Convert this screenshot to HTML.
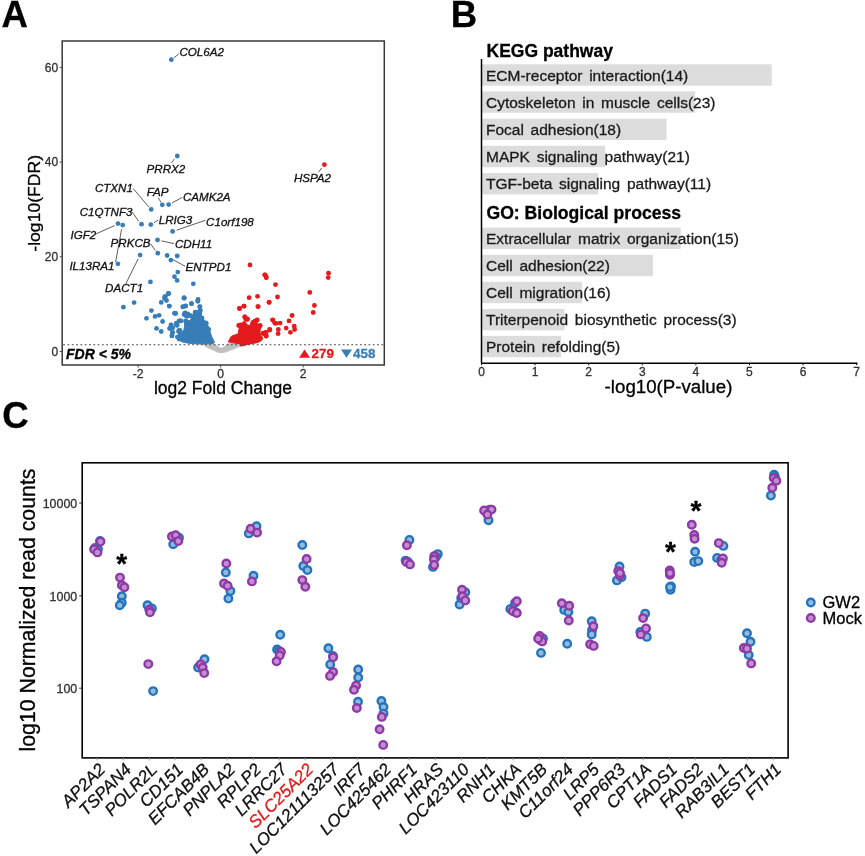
<!DOCTYPE html>
<html><head><meta charset="utf-8"><style>
html,body{margin:0;padding:0;background:#fff;width:865px;height:856px;overflow:hidden}
svg{display:block;will-change:transform}
text{font-family:"Liberation Sans", sans-serif}
</style></head><body>
<svg width="865" height="856" viewBox="0 0 865 856">
<rect width="865" height="856" fill="#fff"/>
<text stroke="#000" stroke-width="0.3" x="1.6" y="26.9" font-size="36.6" font-weight="bold">A</text>
<text stroke="#000" stroke-width="0.3" x="450.8" y="26.9" font-size="36.6" font-weight="bold">B</text>
<text stroke="#000" stroke-width="0.3" x="2.2" y="428" font-size="36.6" font-weight="bold">C</text>
<rect x="62.2" y="41" width="322.1" height="324" fill="none" stroke="#383838" stroke-width="1.5"/>
<line x1="59.7" x2="62.2" y1="351.5" y2="351.5" stroke="#4a4a4a" stroke-width="1"/>
<text stroke="#333" stroke-width="0.3" x="58.2" y="355.8" font-size="12" text-anchor="end" fill="#333">0</text>
<line x1="59.7" x2="62.2" y1="256.8" y2="256.8" stroke="#4a4a4a" stroke-width="1"/>
<text stroke="#333" stroke-width="0.3" x="58.2" y="261.1" font-size="12" text-anchor="end" fill="#333">20</text>
<line x1="59.7" x2="62.2" y1="162.1" y2="162.1" stroke="#4a4a4a" stroke-width="1"/>
<text stroke="#333" stroke-width="0.3" x="58.2" y="166.4" font-size="12" text-anchor="end" fill="#333">40</text>
<line x1="59.7" x2="62.2" y1="67.39999999999998" y2="67.39999999999998" stroke="#4a4a4a" stroke-width="1"/>
<text stroke="#333" stroke-width="0.3" x="58.2" y="71.69999999999997" font-size="12" text-anchor="end" fill="#333">60</text>
<line x1="138.2" x2="138.2" y1="365" y2="367.5" stroke="#4a4a4a" stroke-width="1"/>
<text stroke="#333" stroke-width="0.3" x="138.2" y="377.6" font-size="12.2" text-anchor="middle" fill="#333">-2</text>
<line x1="220.7" x2="220.7" y1="365" y2="367.5" stroke="#4a4a4a" stroke-width="1"/>
<text stroke="#333" stroke-width="0.3" x="220.7" y="377.6" font-size="12.2" text-anchor="middle" fill="#333">0</text>
<line x1="303.2" x2="303.2" y1="365" y2="367.5" stroke="#4a4a4a" stroke-width="1"/>
<text stroke="#333" stroke-width="0.3" x="303.2" y="377.6" font-size="12.2" text-anchor="middle" fill="#333">2</text>
<text stroke="#000" stroke-width="0.3" x="223" y="394.3" font-size="17.5" text-anchor="middle">log2 Fold Change</text>
<text stroke="#000" stroke-width="0.3" transform="translate(40.0,203.3) rotate(-90) scale(1,0.9)" font-size="17.6" text-anchor="middle">-log10(FDR)</text>
<path d="M201.4,342.8 L201.4,344.2 C204,345.5 207.3,347.8 207.3,347.8 C210,349.3 212,350.2 214.3,351 C217,352.3 219.3,353.3 221.2,353.3 C223.5,353.3 226,352.3 228.8,351.3 C231.5,350.3 233.5,349.4 235.8,348.5 L240.2,346.4 L240.2,342.8 L227.8,343.3 C226.5,344.6 225.5,345.5 224.7,346.1 C223.5,347.1 222.3,347.8 221.2,347.8 C220,347.8 218.8,346.9 217.7,346.1 C216,345 214.5,344.1 212.9,343.3 Z" fill="#C0C0C0"/>
<polygon points="177.8,339.1 178.5,330.7 182.0,332.1 184.1,329.3 184.8,323.7 188.3,322.3 191.8,318.0 193.9,313.1 196.8,311.0 200.3,307.5 201.7,312.4 201.0,318.0 203.1,318.8 207.3,323.7 209.4,329.3 211.5,336.3 214.5,342.4 213.5,343.4 210.0,343.6 200.0,344.0 189.0,343.3 182.0,341.9" fill="#377EB8" stroke="#377EB8" stroke-width="1" stroke-linejoin="round"/>
<polygon points="228.2,341.8 231.4,336.2 238.2,333.7 239.5,326.2 242.6,323.7 250.1,325.6 251.3,321.8 255.7,320.6 258.2,325.0 261.3,326.2 259.5,331.2 260.7,335.0 262.0,340.0 258.2,342.4 251.3,343.7 240.7,346.2 240.1,343.7 234.5,343.1" fill="#E41A1C" stroke="#E41A1C" stroke-width="1" stroke-linejoin="round"/>
<circle cx="171.3" cy="59.7" r="2.4" fill="#377EB8"/>
<circle cx="177.3" cy="156" r="2.4" fill="#377EB8"/>
<circle cx="151.2" cy="209.4" r="2.4" fill="#377EB8"/>
<circle cx="162.3" cy="204.8" r="2.4" fill="#377EB8"/>
<circle cx="168.7" cy="204.6" r="2.4" fill="#377EB8"/>
<circle cx="141.5" cy="224.2" r="2.4" fill="#377EB8"/>
<circle cx="150.8" cy="224.6" r="2.4" fill="#377EB8"/>
<circle cx="118" cy="223.6" r="2.4" fill="#377EB8"/>
<circle cx="122.7" cy="225.1" r="2.4" fill="#377EB8"/>
<circle cx="117.9" cy="263.8" r="2.4" fill="#377EB8"/>
<circle cx="172.6" cy="231.4" r="2.4" fill="#377EB8"/>
<circle cx="157.5" cy="239.9" r="2.4" fill="#377EB8"/>
<circle cx="157.8" cy="253.2" r="2.4" fill="#377EB8"/>
<circle cx="167.1" cy="255.5" r="2.4" fill="#377EB8"/>
<circle cx="177.2" cy="256" r="2.4" fill="#377EB8"/>
<circle cx="170.8" cy="260.1" r="2.4" fill="#377EB8"/>
<circle cx="140.1" cy="255.1" r="2.4" fill="#377EB8"/>
<circle cx="177.8" cy="272.1" r="2.4" fill="#377EB8"/>
<circle cx="174.5" cy="276.7" r="2.4" fill="#377EB8"/>
<circle cx="177.1" cy="280.4" r="2.4" fill="#377EB8"/>
<circle cx="193.3" cy="283.8" r="2.4" fill="#377EB8"/>
<circle cx="150.4" cy="281.9" r="2.4" fill="#377EB8"/>
<circle cx="168.4" cy="293.6" r="2.4" fill="#377EB8"/>
<circle cx="164.7" cy="296.7" r="2.4" fill="#377EB8"/>
<circle cx="184.1" cy="297.6" r="2.4" fill="#377EB8"/>
<circle cx="198" cy="299.5" r="2.4" fill="#377EB8"/>
<circle cx="134.1" cy="302.6" r="2.4" fill="#377EB8"/>
<circle cx="123.4" cy="307.2" r="2.4" fill="#377EB8"/>
<circle cx="168.2" cy="293.8" r="2.4" fill="#377EB8"/>
<circle cx="165.4" cy="296.8" r="2.4" fill="#377EB8"/>
<circle cx="164.5" cy="298.6" r="2.4" fill="#377EB8"/>
<circle cx="166.5" cy="300.5" r="2.4" fill="#377EB8"/>
<circle cx="161.2" cy="302.4" r="2.4" fill="#377EB8"/>
<circle cx="169.2" cy="306.1" r="2.4" fill="#377EB8"/>
<circle cx="151.4" cy="310.6" r="2.4" fill="#377EB8"/>
<circle cx="159.1" cy="315.3" r="2.4" fill="#377EB8"/>
<circle cx="155.1" cy="316.4" r="2.4" fill="#377EB8"/>
<circle cx="146.5" cy="318.3" r="2.4" fill="#377EB8"/>
<circle cx="174.6" cy="313.4" r="2.4" fill="#377EB8"/>
<circle cx="162.6" cy="321.5" r="2.4" fill="#377EB8"/>
<circle cx="171" cy="324.8" r="2.4" fill="#377EB8"/>
<circle cx="169.6" cy="328.6" r="2.4" fill="#377EB8"/>
<circle cx="156.5" cy="328.4" r="2.4" fill="#377EB8"/>
<circle cx="161.2" cy="331.5" r="2.4" fill="#377EB8"/>
<circle cx="172.4" cy="332.3" r="2.4" fill="#377EB8"/>
<circle cx="172" cy="335.6" r="2.4" fill="#377EB8"/>
<circle cx="177.1" cy="325.3" r="2.4" fill="#377EB8"/>
<circle cx="179" cy="321" r="2.4" fill="#377EB8"/>
<circle cx="178.5" cy="331.4" r="2.4" fill="#377EB8"/>
<circle cx="179" cy="338.8" r="2.4" fill="#377EB8"/>
<circle cx="184.1" cy="298.2" r="2.4" fill="#377EB8"/>
<circle cx="197.9" cy="301" r="2.4" fill="#377EB8"/>
<circle cx="191.4" cy="303.6" r="2.4" fill="#377EB8"/>
<circle cx="183.4" cy="306.6" r="2.4" fill="#377EB8"/>
<circle cx="185.7" cy="305.9" r="2.4" fill="#377EB8"/>
<circle cx="199.8" cy="306.6" r="2.4" fill="#377EB8"/>
<circle cx="200.2" cy="310.8" r="2.4" fill="#377EB8"/>
<circle cx="195.1" cy="312.7" r="2.4" fill="#377EB8"/>
<circle cx="185.1" cy="313.1" r="2.4" fill="#377EB8"/>
<circle cx="175.7" cy="313.4" r="2.4" fill="#377EB8"/>
<circle cx="186.2" cy="315.9" r="2.4" fill="#377EB8"/>
<circle cx="190.4" cy="315.9" r="2.4" fill="#377EB8"/>
<circle cx="201.6" cy="318.3" r="2.4" fill="#377EB8"/>
<circle cx="180.6" cy="320.9" r="2.4" fill="#377EB8"/>
<circle cx="187.1" cy="322" r="2.4" fill="#377EB8"/>
<circle cx="205.8" cy="323" r="2.4" fill="#377EB8"/>
<circle cx="176.9" cy="324.8" r="2.4" fill="#377EB8"/>
<circle cx="168.7" cy="293.5" r="2.4" fill="#377EB8"/>
<circle cx="184.1" cy="298.1" r="2.4" fill="#377EB8"/>
<circle cx="197.8" cy="301.2" r="2.4" fill="#377EB8"/>
<circle cx="191.5" cy="303.7" r="2.4" fill="#377EB8"/>
<circle cx="182.7" cy="306.8" r="2.4" fill="#377EB8"/>
<circle cx="185.5" cy="306.1" r="2.4" fill="#377EB8"/>
<circle cx="169.4" cy="306.1" r="2.4" fill="#377EB8"/>
<circle cx="174.7" cy="313.1" r="2.4" fill="#377EB8"/>
<circle cx="199.9" cy="306.8" r="2.4" fill="#377EB8"/>
<circle cx="200.3" cy="310.3" r="2.4" fill="#377EB8"/>
<circle cx="195.3" cy="312.1" r="2.4" fill="#377EB8"/>
<circle cx="185.2" cy="312.8" r="2.4" fill="#377EB8"/>
<circle cx="184.1" cy="314.5" r="2.4" fill="#377EB8"/>
<circle cx="187.3" cy="316.3" r="2.4" fill="#377EB8"/>
<circle cx="190.4" cy="315.6" r="2.4" fill="#377EB8"/>
<circle cx="180.6" cy="320.9" r="2.4" fill="#377EB8"/>
<circle cx="176.8" cy="325.1" r="2.4" fill="#377EB8"/>
<circle cx="171.2" cy="325.1" r="2.4" fill="#377EB8"/>
<circle cx="170.1" cy="327.9" r="2.4" fill="#377EB8"/>
<circle cx="172.6" cy="332.4" r="2.4" fill="#377EB8"/>
<circle cx="171.9" cy="335.9" r="2.4" fill="#377EB8"/>
<circle cx="179.2" cy="339.1" r="2.4" fill="#377EB8"/>
<circle cx="178.9" cy="330.7" r="2.4" fill="#377EB8"/>
<circle cx="202" cy="318" r="2.4" fill="#377EB8"/>
<circle cx="206.2" cy="323.3" r="2.4" fill="#377EB8"/>
<circle cx="208.7" cy="329.3" r="2.4" fill="#377EB8"/>
<circle cx="186.2" cy="322.6" r="2.4" fill="#377EB8"/>
<circle cx="176.3" cy="323.2" r="2.4" fill="#377EB8"/>
<circle cx="179.7" cy="330.2" r="2.4" fill="#377EB8"/>
<circle cx="172.8" cy="327.8" r="2.4" fill="#377EB8"/>
<circle cx="185.5" cy="320.9" r="2.4" fill="#377EB8"/>
<circle cx="177.4" cy="337.1" r="2.4" fill="#377EB8"/>
<circle cx="187.8" cy="314" r="2.4" fill="#377EB8"/>
<circle cx="192.4" cy="316.3" r="2.4" fill="#377EB8"/>
<circle cx="324.4" cy="164.7" r="2.4" fill="#E41A1C"/>
<circle cx="250" cy="265" r="2.4" fill="#E41A1C"/>
<circle cx="264.7" cy="274.8" r="2.4" fill="#E41A1C"/>
<circle cx="266.1" cy="276.7" r="2.4" fill="#E41A1C"/>
<circle cx="275.5" cy="284.6" r="2.4" fill="#E41A1C"/>
<circle cx="249.1" cy="297.7" r="2.4" fill="#E41A1C"/>
<circle cx="257.5" cy="296.3" r="2.4" fill="#E41A1C"/>
<circle cx="277.5" cy="297" r="2.4" fill="#E41A1C"/>
<circle cx="269.1" cy="302.4" r="2.4" fill="#E41A1C"/>
<circle cx="244.2" cy="306.1" r="2.4" fill="#E41A1C"/>
<circle cx="239.5" cy="308.5" r="2.4" fill="#E41A1C"/>
<circle cx="258.2" cy="306.6" r="2.4" fill="#E41A1C"/>
<circle cx="244.8" cy="316.9" r="2.4" fill="#E41A1C"/>
<circle cx="247.4" cy="319" r="2.4" fill="#E41A1C"/>
<circle cx="292.1" cy="315.5" r="2.4" fill="#E41A1C"/>
<circle cx="289" cy="320.9" r="2.4" fill="#E41A1C"/>
<circle cx="272.9" cy="320.1" r="2.4" fill="#E41A1C"/>
<circle cx="275.9" cy="323.4" r="2.4" fill="#E41A1C"/>
<circle cx="280.1" cy="323.1" r="2.4" fill="#E41A1C"/>
<circle cx="257.2" cy="320.1" r="2.4" fill="#E41A1C"/>
<circle cx="253" cy="322.5" r="2.4" fill="#E41A1C"/>
<circle cx="260" cy="325.7" r="2.4" fill="#E41A1C"/>
<circle cx="294.2" cy="326.2" r="2.4" fill="#E41A1C"/>
<circle cx="294.6" cy="329.5" r="2.4" fill="#E41A1C"/>
<circle cx="286.2" cy="328.1" r="2.4" fill="#E41A1C"/>
<circle cx="278.3" cy="329.5" r="2.4" fill="#E41A1C"/>
<circle cx="278.1" cy="333.7" r="2.4" fill="#E41A1C"/>
<circle cx="269.7" cy="329.5" r="2.4" fill="#E41A1C"/>
<circle cx="266.1" cy="332.3" r="2.4" fill="#E41A1C"/>
<circle cx="263.3" cy="333.7" r="2.4" fill="#E41A1C"/>
<circle cx="266.1" cy="336" r="2.4" fill="#E41A1C"/>
<circle cx="290.4" cy="332.3" r="2.4" fill="#E41A1C"/>
<circle cx="244.2" cy="323.9" r="2.4" fill="#E41A1C"/>
<circle cx="328.5" cy="273.2" r="2.4" fill="#E41A1C"/>
<circle cx="328.2" cy="277.6" r="2.4" fill="#E41A1C"/>
<circle cx="309.8" cy="292.4" r="2.4" fill="#E41A1C"/>
<circle cx="314.4" cy="305.5" r="2.4" fill="#E41A1C"/>
<circle cx="313.2" cy="312.5" r="2.4" fill="#E41A1C"/>
<circle cx="265" cy="275" r="2.4" fill="#E41A1C"/>
<circle cx="266.3" cy="277.8" r="2.4" fill="#E41A1C"/>
<circle cx="239.5" cy="308.4" r="2.4" fill="#E41A1C"/>
<circle cx="243.8" cy="306.2" r="2.4" fill="#E41A1C"/>
<circle cx="257.9" cy="306.6" r="2.4" fill="#E41A1C"/>
<circle cx="269.1" cy="302.2" r="2.4" fill="#E41A1C"/>
<circle cx="244.8" cy="316.9" r="2.4" fill="#E41A1C"/>
<circle cx="247.3" cy="319.4" r="2.4" fill="#E41A1C"/>
<circle cx="257" cy="320" r="2.4" fill="#E41A1C"/>
<circle cx="272.6" cy="320" r="2.4" fill="#E41A1C"/>
<circle cx="274.7" cy="323.1" r="2.4" fill="#E41A1C"/>
<circle cx="269.8" cy="330" r="2.4" fill="#E41A1C"/>
<circle cx="265.7" cy="332.5" r="2.4" fill="#E41A1C"/>
<circle cx="263.2" cy="333.1" r="2.4" fill="#E41A1C"/>
<circle cx="266.3" cy="335.9" r="2.4" fill="#E41A1C"/>
<circle cx="260.1" cy="325.6" r="2.4" fill="#E41A1C"/>
<circle cx="244.2" cy="323.7" r="2.4" fill="#E41A1C"/>
<circle cx="240.4" cy="325" r="2.4" fill="#E41A1C"/>
<circle cx="238.7" cy="325.5" r="2.4" fill="#E41A1C"/>
<circle cx="245.6" cy="319" r="2.4" fill="#E41A1C"/>
<circle cx="254.9" cy="321.2" r="2.4" fill="#E41A1C"/>
<circle cx="258.3" cy="331.3" r="2.4" fill="#E41A1C"/>
<circle cx="250.2" cy="337.1" r="2.4" fill="#E41A1C"/>
<circle cx="260.6" cy="338.2" r="2.4" fill="#E41A1C"/>
<circle cx="241" cy="332.5" r="2.4" fill="#E41A1C"/>
<line x1="63.2" x2="383.3" y1="344.7" y2="344.7" stroke="#444" stroke-width="1.1" stroke-dasharray="1.8 2.5"/>
<line x1="174.1" y1="57.8" x2="178.8" y2="53.7" stroke="#333" stroke-width="0.8"/>
<line x1="174.5" y1="158.8" x2="171.3" y2="162.9" stroke="#333" stroke-width="0.8"/>
<line x1="321.6" y1="168" x2="318.6" y2="172.2" stroke="#333" stroke-width="0.8"/>
<line x1="148.9" y1="207" x2="133.2" y2="188.5" stroke="#333" stroke-width="0.8"/>
<line x1="161" y1="202.4" x2="158.2" y2="197.7" stroke="#333" stroke-width="0.8"/>
<line x1="172.1" y1="202.9" x2="182.2" y2="197.4" stroke="#333" stroke-width="0.8"/>
<line x1="138.8" y1="221.4" x2="132.3" y2="212.2" stroke="#333" stroke-width="0.8"/>
<line x1="153.9" y1="222.7" x2="158.2" y2="220" stroke="#333" stroke-width="0.8"/>
<line x1="114.7" y1="225.5" x2="96.2" y2="233.8" stroke="#333" stroke-width="0.8"/>
<line x1="121.6" y1="229.2" x2="115.6" y2="262" stroke="#333" stroke-width="0.8"/>
<line x1="176.7" y1="230.1" x2="205.4" y2="220.3" stroke="#333" stroke-width="0.8"/>
<line x1="161.5" y1="240.8" x2="173.9" y2="243.6" stroke="#333" stroke-width="0.8"/>
<line x1="150.4" y1="243.6" x2="155.4" y2="250.5" stroke="#333" stroke-width="0.8"/>
<line x1="173" y1="259.7" x2="185" y2="266.2" stroke="#333" stroke-width="0.8"/>
<line x1="138.2" y1="258.8" x2="125.8" y2="283.8" stroke="#333" stroke-width="0.8"/>
<text stroke="#111" stroke-width="0.3" x="179.4" y="56.4" font-size="11.6" font-style="italic" fill="#111">COL6A2</text>
<text stroke="#111" stroke-width="0.3" x="146.6" y="172.8" font-size="11.6" font-style="italic" fill="#111">PRRX2</text>
<text stroke="#111" stroke-width="0.3" x="293.90000000000003" y="182" font-size="11.6" font-style="italic" fill="#111">HSPA2</text>
<text stroke="#111" stroke-width="0.3" x="94.89999999999999" y="192.2" font-size="11.6" font-style="italic" fill="#111">CTXN1</text>
<text stroke="#111" stroke-width="0.3" x="146.7" y="196.3" font-size="11.6" font-style="italic" fill="#111">FAP</text>
<text stroke="#111" stroke-width="0.3" x="182.9" y="201" font-size="11.6" font-style="italic" fill="#111">CAMK2A</text>
<text stroke="#111" stroke-width="0.3" x="79.69999999999999" y="215.9" font-size="11.6" font-style="italic" fill="#111">C1QTNF3</text>
<text stroke="#111" stroke-width="0.3" x="158.7" y="223.6" font-size="11.6" font-style="italic" fill="#111">LRIG3</text>
<text stroke="#111" stroke-width="0.3" x="206.1" y="225.7" font-size="11.6" font-style="italic" fill="#111">C1orf198</text>
<text stroke="#111" stroke-width="0.3" x="70.5" y="238.8" font-size="11.6" font-style="italic" fill="#111">IGF2</text>
<text stroke="#111" stroke-width="0.3" x="175.0" y="248" font-size="11.6" font-style="italic" fill="#111">CDH11</text>
<text stroke="#111" stroke-width="0.3" x="110.6" y="246.8" font-size="11.6" font-style="italic" fill="#111">PRKCB</text>
<text stroke="#111" stroke-width="0.3" x="69.39999999999999" y="269.9" font-size="11.6" font-style="italic" fill="#111">IL13RA1</text>
<text stroke="#111" stroke-width="0.3" x="185.6" y="271" font-size="11.6" font-style="italic" fill="#111">ENTPD1</text>
<text stroke="#111" stroke-width="0.3" x="105.1" y="292.1" font-size="11.6" font-style="italic" fill="#111">DACT1</text>
<text stroke="#000" stroke-width="0.3" x="66" y="358.8" font-size="14" font-weight="bold" font-style="italic">FDR &lt; 5%</text>
<polygon points="299,357.7 310,357.7 304.5,349.5" fill="#E41A1C"/>
<text stroke="#E41A1C" stroke-width="0.3" x="311.5" y="357.7" font-size="13.4" font-weight="bold" fill="#E41A1C">279</text>
<polygon points="341,349.5 352,349.5 346.5,357.7" fill="#377EB8"/>
<text stroke="#377EB8" stroke-width="0.3" x="353" y="357.7" font-size="13.4" font-weight="bold" fill="#377EB8">458</text>
<rect x="481.5" y="64.3" width="290.20000000000005" height="21.4" fill="#DCDCDC"/>
<rect x="481.5" y="91.39999999999999" width="213.60000000000002" height="21.4" fill="#DCDCDC"/>
<rect x="481.5" y="118.60000000000001" width="185.0" height="21.4" fill="#DCDCDC"/>
<rect x="481.5" y="145.8" width="123.60000000000002" height="21.4" fill="#DCDCDC"/>
<rect x="481.5" y="173.0" width="116.70000000000005" height="21.4" fill="#DCDCDC"/>
<rect x="481.5" y="227.60000000000002" width="199.20000000000005" height="21.4" fill="#DCDCDC"/>
<rect x="481.5" y="254.8" width="171.5" height="21.4" fill="#DCDCDC"/>
<rect x="481.5" y="281.8" width="100.5" height="21.4" fill="#DCDCDC"/>
<rect x="481.5" y="308.90000000000003" width="83.0" height="21.4" fill="#DCDCDC"/>
<rect x="481.5" y="335.8" width="79.5" height="21.4" fill="#DCDCDC"/>
<text stroke="#1a1a1a" stroke-width="0.3" x="486" y="80.6" font-size="15.5" fill="#1a1a1a" word-spacing="2.4">ECM-receptor interaction(14)</text>
<text stroke="#1a1a1a" stroke-width="0.3" x="486" y="107.69999999999999" font-size="15.5" fill="#1a1a1a" word-spacing="2.4">Cytoskeleton in muscle cells(23)</text>
<text stroke="#1a1a1a" stroke-width="0.3" x="486" y="134.9" font-size="15.5" fill="#1a1a1a" word-spacing="2.4">Focal adhesion(18)</text>
<text stroke="#1a1a1a" stroke-width="0.3" x="486" y="162.1" font-size="15.5" fill="#1a1a1a" word-spacing="2.4">MAPK signaling pathway(21)</text>
<text stroke="#1a1a1a" stroke-width="0.3" x="486" y="189.29999999999998" font-size="15.5" fill="#1a1a1a" word-spacing="2.4">TGF-beta signaling pathway(11)</text>
<text stroke="#1a1a1a" stroke-width="0.3" x="486" y="243.9" font-size="15.5" fill="#1a1a1a" word-spacing="2.4">Extracellular matrix organization(15)</text>
<text stroke="#1a1a1a" stroke-width="0.3" x="486" y="271.1" font-size="15.5" fill="#1a1a1a" word-spacing="2.4">Cell adhesion(22)</text>
<text stroke="#1a1a1a" stroke-width="0.3" x="486" y="298.1" font-size="15.5" fill="#1a1a1a" word-spacing="2.4">Cell migration(16)</text>
<text stroke="#1a1a1a" stroke-width="0.3" x="486" y="325.20000000000005" font-size="15.5" fill="#1a1a1a" word-spacing="2.4">Triterpenoid biosynthetic process(3)</text>
<text stroke="#1a1a1a" stroke-width="0.3" x="486" y="352.1" font-size="15.5" fill="#1a1a1a" word-spacing="2.4">Protein refolding(5)</text>
<text stroke="#000" stroke-width="0.3" x="486.5" y="56.6" font-size="17.5" font-weight="bold">KEGG pathway</text>
<text stroke="#000" stroke-width="0.3" x="486.5" y="218.6" font-size="17.6" font-weight="bold">GO: Biological process</text>
<line x1="481.5" y1="59" x2="481.5" y2="363.2" stroke="#000" stroke-width="1.5"/>
<line x1="481.5" y1="363.2" x2="857.5" y2="363.2" stroke="#000" stroke-width="1.5"/>
<line x1="481.5" y1="363.2" x2="481.5" y2="365.2" stroke="#000" stroke-width="1"/>
<text stroke="#333" stroke-width="0.3" x="481.5" y="375.8" font-size="12" text-anchor="middle" fill="#333">0</text>
<line x1="535.09" y1="363.2" x2="535.09" y2="365.2" stroke="#000" stroke-width="1"/>
<text stroke="#333" stroke-width="0.3" x="535.09" y="375.8" font-size="12" text-anchor="middle" fill="#333">1</text>
<line x1="588.6800000000001" y1="363.2" x2="588.6800000000001" y2="365.2" stroke="#000" stroke-width="1"/>
<text stroke="#333" stroke-width="0.3" x="588.6800000000001" y="375.8" font-size="12" text-anchor="middle" fill="#333">2</text>
<line x1="642.27" y1="363.2" x2="642.27" y2="365.2" stroke="#000" stroke-width="1"/>
<text stroke="#333" stroke-width="0.3" x="642.27" y="375.8" font-size="12" text-anchor="middle" fill="#333">3</text>
<line x1="695.86" y1="363.2" x2="695.86" y2="365.2" stroke="#000" stroke-width="1"/>
<text stroke="#333" stroke-width="0.3" x="695.86" y="375.8" font-size="12" text-anchor="middle" fill="#333">4</text>
<line x1="749.45" y1="363.2" x2="749.45" y2="365.2" stroke="#000" stroke-width="1"/>
<text stroke="#333" stroke-width="0.3" x="749.45" y="375.8" font-size="12" text-anchor="middle" fill="#333">5</text>
<line x1="803.04" y1="363.2" x2="803.04" y2="365.2" stroke="#000" stroke-width="1"/>
<text stroke="#333" stroke-width="0.3" x="803.04" y="375.8" font-size="12" text-anchor="middle" fill="#333">6</text>
<line x1="856.63" y1="363.2" x2="856.63" y2="365.2" stroke="#000" stroke-width="1"/>
<text stroke="#333" stroke-width="0.3" x="856.63" y="375.8" font-size="12" text-anchor="middle" fill="#333">7</text>
<text stroke="#000" stroke-width="0.3" x="668.5" y="392.5" font-size="18.7" text-anchor="middle">-log10(P-value)</text>
<rect x="82.2" y="462.8" width="705.9" height="295.09999999999997" fill="none" stroke="#000" stroke-width="1.6"/>
<line x1="79.2" x2="82.2" y1="503" y2="503" stroke="#333" stroke-width="1"/>
<text stroke="#333" stroke-width="0.3" x="77.2" y="508.2" font-size="12.4" text-anchor="end" fill="#333">10000</text>
<line x1="79.2" x2="82.2" y1="595.8" y2="595.8" stroke="#333" stroke-width="1"/>
<text stroke="#333" stroke-width="0.3" x="77.2" y="601.0" font-size="12.4" text-anchor="end" fill="#333">1000</text>
<line x1="79.2" x2="82.2" y1="688.2" y2="688.2" stroke="#333" stroke-width="1"/>
<text stroke="#333" stroke-width="0.3" x="77.2" y="693.4000000000001" font-size="12.4" text-anchor="end" fill="#333">100</text>
<text stroke="#000" stroke-width="0.3" transform="translate(35.0,610.0) rotate(-90)" font-size="21.3" text-anchor="middle">log10 Normalized read counts</text>
<line x1="97.3" x2="97.3" y1="757.9" y2="760.4" stroke="#999" stroke-width="1"/>
<text stroke="#111" stroke-width="0.3" transform="translate(97.3,761.4) rotate(-45)" font-size="17.2" font-style="italic" text-anchor="end" dominant-baseline="hanging" fill="#111">AP2A2</text>
<line x1="123.3" x2="123.3" y1="757.9" y2="760.4" stroke="#999" stroke-width="1"/>
<text stroke="#111" stroke-width="0.3" transform="translate(123.3,761.4) rotate(-45)" font-size="17.2" font-style="italic" text-anchor="end" dominant-baseline="hanging" fill="#111">TSPAN4</text>
<line x1="149.3" x2="149.3" y1="757.9" y2="760.4" stroke="#999" stroke-width="1"/>
<text stroke="#111" stroke-width="0.3" transform="translate(149.3,761.4) rotate(-45)" font-size="17.2" font-style="italic" text-anchor="end" dominant-baseline="hanging" fill="#111">POLR2L</text>
<line x1="175.3" x2="175.3" y1="757.9" y2="760.4" stroke="#999" stroke-width="1"/>
<text stroke="#111" stroke-width="0.3" transform="translate(175.3,761.4) rotate(-45)" font-size="17.2" font-style="italic" text-anchor="end" dominant-baseline="hanging" fill="#111">CD151</text>
<line x1="201.3" x2="201.3" y1="757.9" y2="760.4" stroke="#999" stroke-width="1"/>
<text stroke="#111" stroke-width="0.3" transform="translate(201.3,761.4) rotate(-45)" font-size="17.2" font-style="italic" text-anchor="end" dominant-baseline="hanging" fill="#111">EFCAB4B</text>
<line x1="227.3" x2="227.3" y1="757.9" y2="760.4" stroke="#999" stroke-width="1"/>
<text stroke="#111" stroke-width="0.3" transform="translate(227.3,761.4) rotate(-45)" font-size="17.2" font-style="italic" text-anchor="end" dominant-baseline="hanging" fill="#111">PNPLA2</text>
<line x1="253.3" x2="253.3" y1="757.9" y2="760.4" stroke="#999" stroke-width="1"/>
<text stroke="#111" stroke-width="0.3" transform="translate(253.3,761.4) rotate(-45)" font-size="17.2" font-style="italic" text-anchor="end" dominant-baseline="hanging" fill="#111">RPLP2</text>
<line x1="279.3" x2="279.3" y1="757.9" y2="760.4" stroke="#999" stroke-width="1"/>
<text stroke="#111" stroke-width="0.3" transform="translate(279.3,761.4) rotate(-45)" font-size="17.2" font-style="italic" text-anchor="end" dominant-baseline="hanging" fill="#111">LRRC27</text>
<line x1="305.3" x2="305.3" y1="757.9" y2="760.4" stroke="#999" stroke-width="1"/>
<text stroke="#E41A1C" stroke-width="0.3" transform="translate(305.3,761.4) rotate(-45)" font-size="17.2" font-style="italic" text-anchor="end" dominant-baseline="hanging" fill="#E41A1C">SLC25A22</text>
<line x1="331.3" x2="331.3" y1="757.9" y2="760.4" stroke="#999" stroke-width="1"/>
<text stroke="#111" stroke-width="0.3" transform="translate(331.3,761.4) rotate(-45)" font-size="17.2" font-style="italic" text-anchor="end" dominant-baseline="hanging" fill="#111">LOC121113257</text>
<line x1="357.3" x2="357.3" y1="757.9" y2="760.4" stroke="#999" stroke-width="1"/>
<text stroke="#111" stroke-width="0.3" transform="translate(357.3,761.4) rotate(-45)" font-size="17.2" font-style="italic" text-anchor="end" dominant-baseline="hanging" fill="#111">IRF7</text>
<line x1="383.3" x2="383.3" y1="757.9" y2="760.4" stroke="#999" stroke-width="1"/>
<text stroke="#111" stroke-width="0.3" transform="translate(383.3,761.4) rotate(-45)" font-size="17.2" font-style="italic" text-anchor="end" dominant-baseline="hanging" fill="#111">LOC425462</text>
<line x1="409.3" x2="409.3" y1="757.9" y2="760.4" stroke="#999" stroke-width="1"/>
<text stroke="#111" stroke-width="0.3" transform="translate(409.3,761.4) rotate(-45)" font-size="17.2" font-style="italic" text-anchor="end" dominant-baseline="hanging" fill="#111">PHRF1</text>
<line x1="435.3" x2="435.3" y1="757.9" y2="760.4" stroke="#999" stroke-width="1"/>
<text stroke="#111" stroke-width="0.3" transform="translate(435.3,761.4) rotate(-45)" font-size="17.2" font-style="italic" text-anchor="end" dominant-baseline="hanging" fill="#111">HRAS</text>
<line x1="461.3" x2="461.3" y1="757.9" y2="760.4" stroke="#999" stroke-width="1"/>
<text stroke="#111" stroke-width="0.3" transform="translate(461.3,761.4) rotate(-45)" font-size="17.2" font-style="italic" text-anchor="end" dominant-baseline="hanging" fill="#111">LOC423110</text>
<line x1="487.3" x2="487.3" y1="757.9" y2="760.4" stroke="#999" stroke-width="1"/>
<text stroke="#111" stroke-width="0.3" transform="translate(487.3,761.4) rotate(-45)" font-size="17.2" font-style="italic" text-anchor="end" dominant-baseline="hanging" fill="#111">RNH1</text>
<line x1="513.3" x2="513.3" y1="757.9" y2="760.4" stroke="#999" stroke-width="1"/>
<text stroke="#111" stroke-width="0.3" transform="translate(513.3,761.4) rotate(-45)" font-size="17.2" font-style="italic" text-anchor="end" dominant-baseline="hanging" fill="#111">CHKA</text>
<line x1="539.3" x2="539.3" y1="757.9" y2="760.4" stroke="#999" stroke-width="1"/>
<text stroke="#111" stroke-width="0.3" transform="translate(539.3,761.4) rotate(-45)" font-size="17.2" font-style="italic" text-anchor="end" dominant-baseline="hanging" fill="#111">KMT5B</text>
<line x1="565.3" x2="565.3" y1="757.9" y2="760.4" stroke="#999" stroke-width="1"/>
<text stroke="#111" stroke-width="0.3" transform="translate(565.3,761.4) rotate(-45)" font-size="17.2" font-style="italic" text-anchor="end" dominant-baseline="hanging" fill="#111">C11orf24</text>
<line x1="591.3" x2="591.3" y1="757.9" y2="760.4" stroke="#999" stroke-width="1"/>
<text stroke="#111" stroke-width="0.3" transform="translate(591.3,761.4) rotate(-45)" font-size="17.2" font-style="italic" text-anchor="end" dominant-baseline="hanging" fill="#111">LRP5</text>
<line x1="617.3" x2="617.3" y1="757.9" y2="760.4" stroke="#999" stroke-width="1"/>
<text stroke="#111" stroke-width="0.3" transform="translate(617.3,761.4) rotate(-45)" font-size="17.2" font-style="italic" text-anchor="end" dominant-baseline="hanging" fill="#111">PPP6R3</text>
<line x1="643.3" x2="643.3" y1="757.9" y2="760.4" stroke="#999" stroke-width="1"/>
<text stroke="#111" stroke-width="0.3" transform="translate(643.3,761.4) rotate(-45)" font-size="17.2" font-style="italic" text-anchor="end" dominant-baseline="hanging" fill="#111">CPT1A</text>
<line x1="669.3" x2="669.3" y1="757.9" y2="760.4" stroke="#999" stroke-width="1"/>
<text stroke="#111" stroke-width="0.3" transform="translate(669.3,761.4) rotate(-45)" font-size="17.2" font-style="italic" text-anchor="end" dominant-baseline="hanging" fill="#111">FADS1</text>
<line x1="695.3" x2="695.3" y1="757.9" y2="760.4" stroke="#999" stroke-width="1"/>
<text stroke="#111" stroke-width="0.3" transform="translate(695.3,761.4) rotate(-45)" font-size="17.2" font-style="italic" text-anchor="end" dominant-baseline="hanging" fill="#111">FADS2</text>
<line x1="721.3" x2="721.3" y1="757.9" y2="760.4" stroke="#999" stroke-width="1"/>
<text stroke="#111" stroke-width="0.3" transform="translate(721.3,761.4) rotate(-45)" font-size="17.2" font-style="italic" text-anchor="end" dominant-baseline="hanging" fill="#111">RAB3IL1</text>
<line x1="747.3" x2="747.3" y1="757.9" y2="760.4" stroke="#999" stroke-width="1"/>
<text stroke="#111" stroke-width="0.3" transform="translate(747.3,761.4) rotate(-45)" font-size="17.2" font-style="italic" text-anchor="end" dominant-baseline="hanging" fill="#111">BEST1</text>
<line x1="773.3" x2="773.3" y1="757.9" y2="760.4" stroke="#999" stroke-width="1"/>
<text stroke="#111" stroke-width="0.3" transform="translate(773.3,761.4) rotate(-45)" font-size="17.2" font-style="italic" text-anchor="end" dominant-baseline="hanging" fill="#111">FTH1</text>
<circle cx="100" cy="541" r="3.75" fill="#93BADD" stroke="#2474BD" stroke-width="2.4"/>
<circle cx="98" cy="549" r="3.75" fill="#93BADD" stroke="#2474BD" stroke-width="2.4"/>
<circle cx="95" cy="548" r="3.75" fill="#93BADD" stroke="#2474BD" stroke-width="2.4"/>
<circle cx="121.8" cy="596.3" r="3.75" fill="#93BADD" stroke="#2474BD" stroke-width="2.4"/>
<circle cx="121.8" cy="602.8" r="3.75" fill="#93BADD" stroke="#2474BD" stroke-width="2.4"/>
<circle cx="119.8" cy="605.3" r="3.75" fill="#93BADD" stroke="#2474BD" stroke-width="2.4"/>
<circle cx="147.5" cy="605.3" r="3.75" fill="#93BADD" stroke="#2474BD" stroke-width="2.4"/>
<circle cx="151.9" cy="608.4" r="3.75" fill="#93BADD" stroke="#2474BD" stroke-width="2.4"/>
<circle cx="153.1" cy="691.1" r="3.75" fill="#93BADD" stroke="#2474BD" stroke-width="2.4"/>
<circle cx="179" cy="537.8" r="3.75" fill="#93BADD" stroke="#2474BD" stroke-width="2.4"/>
<circle cx="173.2" cy="544.2" r="3.75" fill="#93BADD" stroke="#2474BD" stroke-width="2.4"/>
<circle cx="176" cy="538" r="3.75" fill="#93BADD" stroke="#2474BD" stroke-width="2.4"/>
<circle cx="204.5" cy="659.2" r="3.75" fill="#93BADD" stroke="#2474BD" stroke-width="2.4"/>
<circle cx="198.1" cy="667.5" r="3.75" fill="#93BADD" stroke="#2474BD" stroke-width="2.4"/>
<circle cx="201" cy="665" r="3.75" fill="#93BADD" stroke="#2474BD" stroke-width="2.4"/>
<circle cx="225.8" cy="572.4" r="3.75" fill="#93BADD" stroke="#2474BD" stroke-width="2.4"/>
<circle cx="230.4" cy="591" r="3.75" fill="#93BADD" stroke="#2474BD" stroke-width="2.4"/>
<circle cx="228.4" cy="598.6" r="3.75" fill="#93BADD" stroke="#2474BD" stroke-width="2.4"/>
<circle cx="256.5" cy="526.2" r="3.75" fill="#93BADD" stroke="#2474BD" stroke-width="2.4"/>
<circle cx="248.8" cy="533.4" r="3.75" fill="#93BADD" stroke="#2474BD" stroke-width="2.4"/>
<circle cx="253.5" cy="575.8" r="3.75" fill="#93BADD" stroke="#2474BD" stroke-width="2.4"/>
<circle cx="280.2" cy="634.8" r="3.75" fill="#93BADD" stroke="#2474BD" stroke-width="2.4"/>
<circle cx="277.1" cy="649.5" r="3.75" fill="#93BADD" stroke="#2474BD" stroke-width="2.4"/>
<circle cx="279" cy="651" r="3.75" fill="#93BADD" stroke="#2474BD" stroke-width="2.4"/>
<circle cx="302.3" cy="545" r="3.75" fill="#93BADD" stroke="#2474BD" stroke-width="2.4"/>
<circle cx="303.3" cy="566" r="3.75" fill="#93BADD" stroke="#2474BD" stroke-width="2.4"/>
<circle cx="307.4" cy="570.1" r="3.75" fill="#93BADD" stroke="#2474BD" stroke-width="2.4"/>
<circle cx="328.4" cy="648.2" r="3.75" fill="#93BADD" stroke="#2474BD" stroke-width="2.4"/>
<circle cx="330.2" cy="664.4" r="3.75" fill="#93BADD" stroke="#2474BD" stroke-width="2.4"/>
<circle cx="333" cy="656" r="3.75" fill="#93BADD" stroke="#2474BD" stroke-width="2.4"/>
<circle cx="358.2" cy="669.5" r="3.75" fill="#93BADD" stroke="#2474BD" stroke-width="2.4"/>
<circle cx="358.2" cy="677.6" r="3.75" fill="#93BADD" stroke="#2474BD" stroke-width="2.4"/>
<circle cx="358" cy="701.7" r="3.75" fill="#93BADD" stroke="#2474BD" stroke-width="2.4"/>
<circle cx="381.4" cy="701" r="3.75" fill="#93BADD" stroke="#2474BD" stroke-width="2.4"/>
<circle cx="383.5" cy="707" r="3.75" fill="#93BADD" stroke="#2474BD" stroke-width="2.4"/>
<circle cx="383.5" cy="713.6" r="3.75" fill="#93BADD" stroke="#2474BD" stroke-width="2.4"/>
<circle cx="409.4" cy="539.9" r="3.75" fill="#93BADD" stroke="#2474BD" stroke-width="2.4"/>
<circle cx="405.6" cy="560.6" r="3.75" fill="#93BADD" stroke="#2474BD" stroke-width="2.4"/>
<circle cx="408" cy="562" r="3.75" fill="#93BADD" stroke="#2474BD" stroke-width="2.4"/>
<circle cx="437.8" cy="554.1" r="3.75" fill="#93BADD" stroke="#2474BD" stroke-width="2.4"/>
<circle cx="433" cy="566.9" r="3.75" fill="#93BADD" stroke="#2474BD" stroke-width="2.4"/>
<circle cx="436" cy="557" r="3.75" fill="#93BADD" stroke="#2474BD" stroke-width="2.4"/>
<circle cx="465.3" cy="592.2" r="3.75" fill="#93BADD" stroke="#2474BD" stroke-width="2.4"/>
<circle cx="459.6" cy="604.5" r="3.75" fill="#93BADD" stroke="#2474BD" stroke-width="2.4"/>
<circle cx="461.2" cy="598" r="3.75" fill="#93BADD" stroke="#2474BD" stroke-width="2.4"/>
<circle cx="488.5" cy="520.3" r="3.75" fill="#93BADD" stroke="#2474BD" stroke-width="2.4"/>
<circle cx="489.8" cy="509.6" r="3.75" fill="#93BADD" stroke="#2474BD" stroke-width="2.4"/>
<circle cx="486" cy="512" r="3.75" fill="#93BADD" stroke="#2474BD" stroke-width="2.4"/>
<circle cx="510.3" cy="609" r="3.75" fill="#93BADD" stroke="#2474BD" stroke-width="2.4"/>
<circle cx="514.4" cy="611.8" r="3.75" fill="#93BADD" stroke="#2474BD" stroke-width="2.4"/>
<circle cx="515" cy="603" r="3.75" fill="#93BADD" stroke="#2474BD" stroke-width="2.4"/>
<circle cx="543" cy="638.5" r="3.75" fill="#93BADD" stroke="#2474BD" stroke-width="2.4"/>
<circle cx="541" cy="652.9" r="3.75" fill="#93BADD" stroke="#2474BD" stroke-width="2.4"/>
<circle cx="540" cy="640" r="3.75" fill="#93BADD" stroke="#2474BD" stroke-width="2.4"/>
<circle cx="564.2" cy="609.9" r="3.75" fill="#93BADD" stroke="#2474BD" stroke-width="2.4"/>
<circle cx="568.3" cy="612" r="3.75" fill="#93BADD" stroke="#2474BD" stroke-width="2.4"/>
<circle cx="567.2" cy="643.7" r="3.75" fill="#93BADD" stroke="#2474BD" stroke-width="2.4"/>
<circle cx="591.7" cy="621.3" r="3.75" fill="#93BADD" stroke="#2474BD" stroke-width="2.4"/>
<circle cx="592" cy="630.3" r="3.75" fill="#93BADD" stroke="#2474BD" stroke-width="2.4"/>
<circle cx="591.7" cy="634.4" r="3.75" fill="#93BADD" stroke="#2474BD" stroke-width="2.4"/>
<circle cx="619.5" cy="566.5" r="3.75" fill="#93BADD" stroke="#2474BD" stroke-width="2.4"/>
<circle cx="616.9" cy="580.4" r="3.75" fill="#93BADD" stroke="#2474BD" stroke-width="2.4"/>
<circle cx="621.5" cy="577.2" r="3.75" fill="#93BADD" stroke="#2474BD" stroke-width="2.4"/>
<circle cx="645.2" cy="613.6" r="3.75" fill="#93BADD" stroke="#2474BD" stroke-width="2.4"/>
<circle cx="640.3" cy="632" r="3.75" fill="#93BADD" stroke="#2474BD" stroke-width="2.4"/>
<circle cx="646.8" cy="636.9" r="3.75" fill="#93BADD" stroke="#2474BD" stroke-width="2.4"/>
<circle cx="671" cy="586.5" r="3.75" fill="#93BADD" stroke="#2474BD" stroke-width="2.4"/>
<circle cx="670.5" cy="589.8" r="3.75" fill="#93BADD" stroke="#2474BD" stroke-width="2.4"/>
<circle cx="670" cy="587" r="3.75" fill="#93BADD" stroke="#2474BD" stroke-width="2.4"/>
<circle cx="695.1" cy="551.8" r="3.75" fill="#93BADD" stroke="#2474BD" stroke-width="2.4"/>
<circle cx="694.2" cy="562" r="3.75" fill="#93BADD" stroke="#2474BD" stroke-width="2.4"/>
<circle cx="698.3" cy="561.1" r="3.75" fill="#93BADD" stroke="#2474BD" stroke-width="2.4"/>
<circle cx="723.4" cy="545.9" r="3.75" fill="#93BADD" stroke="#2474BD" stroke-width="2.4"/>
<circle cx="717.1" cy="557.9" r="3.75" fill="#93BADD" stroke="#2474BD" stroke-width="2.4"/>
<circle cx="721" cy="560" r="3.75" fill="#93BADD" stroke="#2474BD" stroke-width="2.4"/>
<circle cx="747" cy="633.3" r="3.75" fill="#93BADD" stroke="#2474BD" stroke-width="2.4"/>
<circle cx="750.5" cy="641.7" r="3.75" fill="#93BADD" stroke="#2474BD" stroke-width="2.4"/>
<circle cx="748.7" cy="655" r="3.75" fill="#93BADD" stroke="#2474BD" stroke-width="2.4"/>
<circle cx="774.1" cy="474.8" r="3.75" fill="#93BADD" stroke="#2474BD" stroke-width="2.4"/>
<circle cx="770.9" cy="495.6" r="3.75" fill="#93BADD" stroke="#2474BD" stroke-width="2.4"/>
<circle cx="775" cy="477" r="3.75" fill="#93BADD" stroke="#2474BD" stroke-width="2.4"/>
<circle cx="100.5" cy="541.6" r="3.75" fill="#C48ED3" stroke="#8E3AA6" stroke-width="2.4"/>
<circle cx="94.1" cy="549.3" r="3.75" fill="#C48ED3" stroke="#8E3AA6" stroke-width="2.4"/>
<circle cx="97.4" cy="552.4" r="3.75" fill="#C48ED3" stroke="#8E3AA6" stroke-width="2.4"/>
<circle cx="120" cy="577.6" r="3.75" fill="#C48ED3" stroke="#8E3AA6" stroke-width="2.4"/>
<circle cx="121.8" cy="585.3" r="3.75" fill="#C48ED3" stroke="#8E3AA6" stroke-width="2.4"/>
<circle cx="124.4" cy="587.3" r="3.75" fill="#C48ED3" stroke="#8E3AA6" stroke-width="2.4"/>
<circle cx="149.3" cy="609.7" r="3.75" fill="#C48ED3" stroke="#8E3AA6" stroke-width="2.4"/>
<circle cx="150" cy="612.3" r="3.75" fill="#C48ED3" stroke="#8E3AA6" stroke-width="2.4"/>
<circle cx="148.3" cy="664.1" r="3.75" fill="#C48ED3" stroke="#8E3AA6" stroke-width="2.4"/>
<circle cx="171.9" cy="536.5" r="3.75" fill="#C48ED3" stroke="#8E3AA6" stroke-width="2.4"/>
<circle cx="175.7" cy="535.2" r="3.75" fill="#C48ED3" stroke="#8E3AA6" stroke-width="2.4"/>
<circle cx="178.3" cy="541.1" r="3.75" fill="#C48ED3" stroke="#8E3AA6" stroke-width="2.4"/>
<circle cx="200.6" cy="664.4" r="3.75" fill="#C48ED3" stroke="#8E3AA6" stroke-width="2.4"/>
<circle cx="202.7" cy="667.5" r="3.75" fill="#C48ED3" stroke="#8E3AA6" stroke-width="2.4"/>
<circle cx="204.2" cy="673.1" r="3.75" fill="#C48ED3" stroke="#8E3AA6" stroke-width="2.4"/>
<circle cx="226.3" cy="563.5" r="3.75" fill="#C48ED3" stroke="#8E3AA6" stroke-width="2.4"/>
<circle cx="224" cy="583.5" r="3.75" fill="#C48ED3" stroke="#8E3AA6" stroke-width="2.4"/>
<circle cx="227.6" cy="585.8" r="3.75" fill="#C48ED3" stroke="#8E3AA6" stroke-width="2.4"/>
<circle cx="250.6" cy="528.8" r="3.75" fill="#C48ED3" stroke="#8E3AA6" stroke-width="2.4"/>
<circle cx="257.1" cy="532.6" r="3.75" fill="#C48ED3" stroke="#8E3AA6" stroke-width="2.4"/>
<circle cx="251.9" cy="581.4" r="3.75" fill="#C48ED3" stroke="#8E3AA6" stroke-width="2.4"/>
<circle cx="280.9" cy="652" r="3.75" fill="#C48ED3" stroke="#8E3AA6" stroke-width="2.4"/>
<circle cx="279.7" cy="655.4" r="3.75" fill="#C48ED3" stroke="#8E3AA6" stroke-width="2.4"/>
<circle cx="276.6" cy="661.3" r="3.75" fill="#C48ED3" stroke="#8E3AA6" stroke-width="2.4"/>
<circle cx="306.6" cy="559" r="3.75" fill="#C48ED3" stroke="#8E3AA6" stroke-width="2.4"/>
<circle cx="302.3" cy="580.1" r="3.75" fill="#C48ED3" stroke="#8E3AA6" stroke-width="2.4"/>
<circle cx="305.3" cy="586.8" r="3.75" fill="#C48ED3" stroke="#8E3AA6" stroke-width="2.4"/>
<circle cx="333.1" cy="657.2" r="3.75" fill="#C48ED3" stroke="#8E3AA6" stroke-width="2.4"/>
<circle cx="333.1" cy="672.1" r="3.75" fill="#C48ED3" stroke="#8E3AA6" stroke-width="2.4"/>
<circle cx="330" cy="675.9" r="3.75" fill="#C48ED3" stroke="#8E3AA6" stroke-width="2.4"/>
<circle cx="356.1" cy="685.6" r="3.75" fill="#C48ED3" stroke="#8E3AA6" stroke-width="2.4"/>
<circle cx="354" cy="689.8" r="3.75" fill="#C48ED3" stroke="#8E3AA6" stroke-width="2.4"/>
<circle cx="356.8" cy="708" r="3.75" fill="#C48ED3" stroke="#8E3AA6" stroke-width="2.4"/>
<circle cx="381.8" cy="716.9" r="3.75" fill="#C48ED3" stroke="#8E3AA6" stroke-width="2.4"/>
<circle cx="379.6" cy="729.3" r="3.75" fill="#C48ED3" stroke="#8E3AA6" stroke-width="2.4"/>
<circle cx="383.2" cy="744.9" r="3.75" fill="#C48ED3" stroke="#8E3AA6" stroke-width="2.4"/>
<circle cx="406.9" cy="545.3" r="3.75" fill="#C48ED3" stroke="#8E3AA6" stroke-width="2.4"/>
<circle cx="406.4" cy="562" r="3.75" fill="#C48ED3" stroke="#8E3AA6" stroke-width="2.4"/>
<circle cx="410" cy="564.4" r="3.75" fill="#C48ED3" stroke="#8E3AA6" stroke-width="2.4"/>
<circle cx="434.2" cy="556.2" r="3.75" fill="#C48ED3" stroke="#8E3AA6" stroke-width="2.4"/>
<circle cx="433.9" cy="559.5" r="3.75" fill="#C48ED3" stroke="#8E3AA6" stroke-width="2.4"/>
<circle cx="434.2" cy="564.9" r="3.75" fill="#C48ED3" stroke="#8E3AA6" stroke-width="2.4"/>
<circle cx="462" cy="589.8" r="3.75" fill="#C48ED3" stroke="#8E3AA6" stroke-width="2.4"/>
<circle cx="462.4" cy="596.3" r="3.75" fill="#C48ED3" stroke="#8E3AA6" stroke-width="2.4"/>
<circle cx="465.3" cy="600.4" r="3.75" fill="#C48ED3" stroke="#8E3AA6" stroke-width="2.4"/>
<circle cx="484.1" cy="510.4" r="3.75" fill="#C48ED3" stroke="#8E3AA6" stroke-width="2.4"/>
<circle cx="491.5" cy="509.6" r="3.75" fill="#C48ED3" stroke="#8E3AA6" stroke-width="2.4"/>
<circle cx="487.4" cy="514.5" r="3.75" fill="#C48ED3" stroke="#8E3AA6" stroke-width="2.4"/>
<circle cx="516.8" cy="601.2" r="3.75" fill="#C48ED3" stroke="#8E3AA6" stroke-width="2.4"/>
<circle cx="512.7" cy="611" r="3.75" fill="#C48ED3" stroke="#8E3AA6" stroke-width="2.4"/>
<circle cx="516.8" cy="613" r="3.75" fill="#C48ED3" stroke="#8E3AA6" stroke-width="2.4"/>
<circle cx="539.7" cy="636" r="3.75" fill="#C48ED3" stroke="#8E3AA6" stroke-width="2.4"/>
<circle cx="542.2" cy="641.4" r="3.75" fill="#C48ED3" stroke="#8E3AA6" stroke-width="2.4"/>
<circle cx="538.1" cy="638.5" r="3.75" fill="#C48ED3" stroke="#8E3AA6" stroke-width="2.4"/>
<circle cx="561.8" cy="603.3" r="3.75" fill="#C48ED3" stroke="#8E3AA6" stroke-width="2.4"/>
<circle cx="569.2" cy="605.8" r="3.75" fill="#C48ED3" stroke="#8E3AA6" stroke-width="2.4"/>
<circle cx="568.8" cy="620.5" r="3.75" fill="#C48ED3" stroke="#8E3AA6" stroke-width="2.4"/>
<circle cx="593.4" cy="626.2" r="3.75" fill="#C48ED3" stroke="#8E3AA6" stroke-width="2.4"/>
<circle cx="590.1" cy="644.2" r="3.75" fill="#C48ED3" stroke="#8E3AA6" stroke-width="2.4"/>
<circle cx="593.7" cy="645.9" r="3.75" fill="#C48ED3" stroke="#8E3AA6" stroke-width="2.4"/>
<circle cx="618.2" cy="571.1" r="3.75" fill="#C48ED3" stroke="#8E3AA6" stroke-width="2.4"/>
<circle cx="619.8" cy="575.5" r="3.75" fill="#C48ED3" stroke="#8E3AA6" stroke-width="2.4"/>
<circle cx="620" cy="573" r="3.75" fill="#C48ED3" stroke="#8E3AA6" stroke-width="2.4"/>
<circle cx="643.1" cy="618.1" r="3.75" fill="#C48ED3" stroke="#8E3AA6" stroke-width="2.4"/>
<circle cx="646" cy="628.4" r="3.75" fill="#C48ED3" stroke="#8E3AA6" stroke-width="2.4"/>
<circle cx="640.8" cy="634.4" r="3.75" fill="#C48ED3" stroke="#8E3AA6" stroke-width="2.4"/>
<circle cx="669.7" cy="570.5" r="3.75" fill="#C48ED3" stroke="#8E3AA6" stroke-width="2.4"/>
<circle cx="670" cy="574.7" r="3.75" fill="#C48ED3" stroke="#8E3AA6" stroke-width="2.4"/>
<circle cx="670" cy="573" r="3.75" fill="#C48ED3" stroke="#8E3AA6" stroke-width="2.4"/>
<circle cx="691.8" cy="524.7" r="3.75" fill="#C48ED3" stroke="#8E3AA6" stroke-width="2.4"/>
<circle cx="694.2" cy="535" r="3.75" fill="#C48ED3" stroke="#8E3AA6" stroke-width="2.4"/>
<circle cx="694.6" cy="538.7" r="3.75" fill="#C48ED3" stroke="#8E3AA6" stroke-width="2.4"/>
<circle cx="718.8" cy="543.1" r="3.75" fill="#C48ED3" stroke="#8E3AA6" stroke-width="2.4"/>
<circle cx="722.9" cy="558.4" r="3.75" fill="#C48ED3" stroke="#8E3AA6" stroke-width="2.4"/>
<circle cx="721.7" cy="562.8" r="3.75" fill="#C48ED3" stroke="#8E3AA6" stroke-width="2.4"/>
<circle cx="743.8" cy="648" r="3.75" fill="#C48ED3" stroke="#8E3AA6" stroke-width="2.4"/>
<circle cx="751.2" cy="663.4" r="3.75" fill="#C48ED3" stroke="#8E3AA6" stroke-width="2.4"/>
<circle cx="747" cy="648.5" r="3.75" fill="#C48ED3" stroke="#8E3AA6" stroke-width="2.4"/>
<circle cx="773.7" cy="478" r="3.75" fill="#C48ED3" stroke="#8E3AA6" stroke-width="2.4"/>
<circle cx="776.4" cy="480.8" r="3.75" fill="#C48ED3" stroke="#8E3AA6" stroke-width="2.4"/>
<circle cx="772.3" cy="487.8" r="3.75" fill="#C48ED3" stroke="#8E3AA6" stroke-width="2.4"/>
<text stroke="#000" stroke-width="0.3" x="121.6" y="572.5" font-size="28" font-weight="bold" text-anchor="middle">*</text>
<text stroke="#000" stroke-width="0.3" x="670.5" y="561" font-size="28" font-weight="bold" text-anchor="middle">*</text>
<text stroke="#000" stroke-width="0.3" x="695.9" y="520.2" font-size="28" font-weight="bold" text-anchor="middle">*</text>
<circle cx="810.8" cy="602.5" r="3.75" fill="#93BADD" stroke="#2474BD" stroke-width="2.4"/>
<circle cx="810.8" cy="618" r="3.75" fill="#C48ED3" stroke="#8E3AA6" stroke-width="2.4"/>
<text stroke="#000" stroke-width="0.3" x="822.5" y="608.2" font-size="16.5">GW2</text>
<text stroke="#000" stroke-width="0.3" x="822.5" y="623.8" font-size="16.5">Mock</text>
</svg></body></html>
